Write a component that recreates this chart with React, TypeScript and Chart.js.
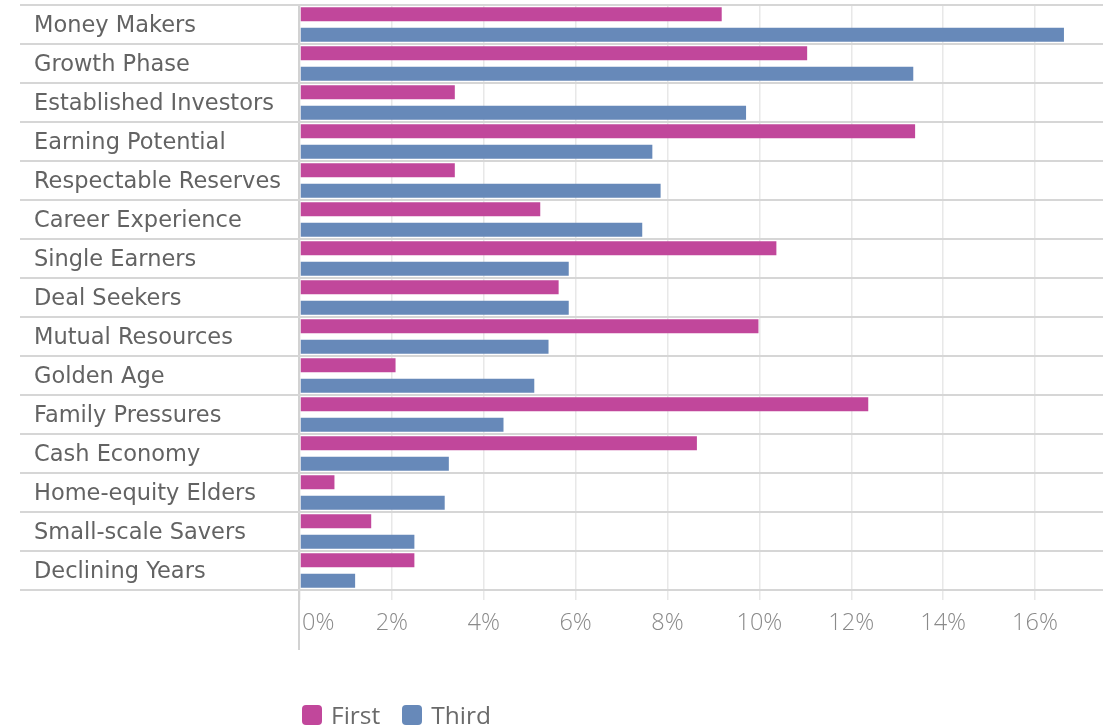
import React, { useEffect, useRef } from 'react';
import { Chart, registerables } from 'chart.js';

Chart.register(...registerables);

const categories = [
  'Money Makers',
  'Growth Phase',
  'Established Investors',
  'Earning Potential',
  'Respectable Reserves',
  'Career Experience',
  'Single Earners',
  'Deal Seekers',
  'Mutual Resources',
  'Golden Age',
  'Family Pressures',
  'Cash Economy',
  'Home-equity Elders',
  'Small-scale Savers',
  'Declining Years',
];

const firstValues = [9.18, 11.04, 3.37, 13.39, 3.37, 5.23, 10.37, 5.63, 9.98, 2.08, 12.37, 8.64, 0.75, 1.55, 2.49];
const thirdValues = [16.63, 13.35, 9.71, 7.67, 7.85, 7.45, 5.85, 5.85, 5.41, 5.1, 4.43, 3.24, 3.15, 2.49, 1.2];

const seriesNames = ['First', 'Third'];
const seriesColors = ['#C1479B', '#6789B9'];

const xTickValues = [0, 2, 4, 6, 8, 10, 12, 14, 16];
const xMax = 17.48;

const FONT = "'Open Sans', 'Noto Sans', sans-serif";
const LABEL_FONT = "'DejaVu Sans', 'Open Sans', sans-serif";

const rowLinesPlugin = {
  id: 'rowLines',
  beforeDatasetsDraw(chart: any) {
    const { ctx, chartArea, scales } = chart;
    const y = scales.y;
    const x = scales.x;
    const n = categories.length;
    const step = (y.bottom - y.top) / n;
    ctx.save();
    const x0 = x.getPixelForValue(0);
    ctx.strokeStyle = '#d2d2d2';
    ctx.lineWidth = 2;
    ctx.beginPath();
    ctx.moveTo(x0 - 1, chartArea.top);
    ctx.lineTo(x0 - 1, chartArea.bottom + 60);
    ctx.stroke();
    ctx.strokeStyle = '#d6d6d6';
    ctx.lineWidth = 2;
    for (let i = 0; i <= n; i++) {
      const py = y.top + i * step;
      ctx.beginPath();
      ctx.moveTo(20, py);
      ctx.lineTo(chartArea.right, py);
      ctx.stroke();
    }
    ctx.restore();
  },
};

export default function App() {
  const canvasRef = useRef<HTMLCanvasElement | null>(null);

  useEffect(() => {
    if (!canvasRef.current) return;
    const chart = new Chart(canvasRef.current, {
      type: 'bar',
      data: {
        labels: categories,
        datasets: [
          {
            label: seriesNames[0],
            data: firstValues,
            backgroundColor: seriesColors[0],
            categoryPercentage: 1.053,
            barPercentage: 0.683,
          },
          {
            label: seriesNames[1],
            data: thirdValues,
            backgroundColor: seriesColors[1],
            categoryPercentage: 1.053,
            barPercentage: 0.683,
          },
        ],
      },
      options: {
        indexAxis: 'y',
        animation: false,
        responsive: true,
        maintainAspectRatio: false,
        layout: { padding: { top: 5, left: 34, right: 12, bottom: 0 } },
        plugins: {
          legend: { display: false },
          tooltip: { enabled: false },
        },
        scales: {
          x: {
            type: 'linear',
            min: 0,
            max: xMax,
            grid: {
              color: '#e8e8e8',
              lineWidth: 1.5,
              drawTicks: true,
              tickLength: 10,
              tickColor: '#e8e8e8',
            },
            border: { display: false },
            afterBuildTicks: (s: any) => {
              s.ticks = xTickValues.map((v) => ({ value: v }));
            },
            afterFit: (s: any) => {
              s.height = 138;
            },
            ticks: {
              padding: 9,
              color: '#8a8a8a',
              font: { family: FONT, size: 23.5, weight: '300' as any },
              callback: (v: any) => (Number(v) === 0 ? '      0%' : `${v}%`),
              maxRotation: 0,
            },
          },
          y: {
            type: 'category',
            grid: { display: false },
            border: { display: false },
            afterFit: (s: any) => {
              s.width = 266;
              s.paddingTop = 0;
              s.paddingBottom = 0;
            },
            ticks: {
              crossAlign: 'far',
              color: '#636363',
              font: { family: LABEL_FONT, size: 22.5 },
              autoSkip: false,
              labelOffset: 2,
            },
          },
        },
      },
      plugins: [rowLinesPlugin],
    });
    return () => chart.destroy();
  }, []);

  return (
    <div
      style={{
        position: 'fixed',
        left: 0,
        top: 0,
        width: 1115,
        height: 728,
        background: '#ffffff',
        overflow: 'hidden',
      }}
    >
      <canvas ref={canvasRef} style={{ width: '100%', height: '100%' }} />
      <div
        style={{
          position: 'absolute',
          left: 302,
          top: 703,
          display: 'flex',
          alignItems: 'center',
          fontFamily: FONT,
          fontSize: 24.5,
          color: '#6a6a6a',
          lineHeight: '24px',
        }}
      >
        {seriesNames.map((name, i) => (
          <div key={name} style={{ display: 'flex', alignItems: 'center', marginRight: 22 }}>
            <span
              style={{
                display: 'inline-block',
                width: 20,
                height: 20,
                borderRadius: 4,
                background: seriesColors[i],
                marginRight: 9,
              }}
            />
            <span>{name}</span>
          </div>
        ))}
      </div>
    </div>
  );
}
